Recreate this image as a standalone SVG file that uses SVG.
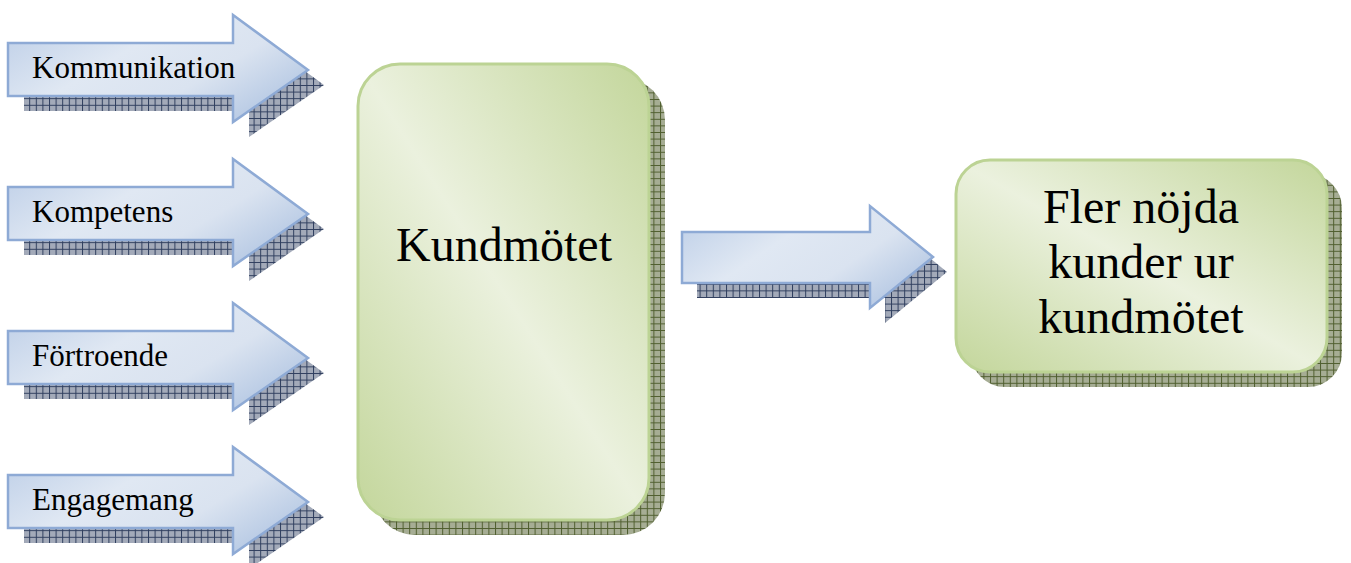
<svg xmlns="http://www.w3.org/2000/svg" width="1351" height="563" viewBox="0 0 1351 563">
<defs>
<style>
.arrow{fill:url(#arrowGrad);stroke:#8eaad5;stroke-width:2.5;stroke-linejoin:miter}
.arrowShadow{fill:url(#blueHatch)}
.box{fill:url(#boxGrad);stroke:#bcd394;stroke-width:3}
.boxShadow{fill:url(#greenHatch)}
.lbl{font-family:"Liberation Serif","Times New Roman",serif;font-size:31px;fill:#000}
.big{font-family:"Liberation Serif","Times New Roman",serif;font-size:48px;fill:#000;text-anchor:middle}
</style>
<linearGradient id="arrowGrad" x1="0" y1="0.2" x2="1" y2="0.8">
<stop offset="0" stop-color="#c2d2e9"/>
<stop offset="0.35" stop-color="#e0e8f3"/>
<stop offset="0.65" stop-color="#dae3f0"/>
<stop offset="1" stop-color="#aec3e1"/>
</linearGradient>
<linearGradient id="boxGrad" x1="1" y1="0" x2="0" y2="1">
<stop offset="0" stop-color="#c3d69b"/>
<stop offset="0.5" stop-color="#ebf1de"/>
<stop offset="1" stop-color="#c3d69b"/>
</linearGradient>
<pattern id="blueHatch" width="6.6" height="6.6" patternUnits="userSpaceOnUse">
<rect width="6.6" height="6.6" fill="#a3aab9"/>
<path d="M0 0.5H6.6M0.5 0V6.6" stroke="#2f3e5e" stroke-width="1"/>
</pattern>
<pattern id="greenHatch" width="6.6" height="6.6" patternUnits="userSpaceOnUse">
<rect width="6.6" height="6.6" fill="#a6ad94"/>
<path d="M0 0.5H6.6M0.5 0V6.6" stroke="#4f5e2e" stroke-width="1"/>
</pattern>
<path id="arrowShape" d="M8 -27H233V-55L308 0L233 52V26H8Z"/>
</defs>

<g id="connectors">
<g id="arrow-middle">
<path class="arrowShadow" d="M697 247H885V221L947 272L885 323V298H697Z"/>
<path class="arrow" d="M682 232H870V206L933 257L870 308V283H682Z"/>
</g>
</g>

<g id="node-kommunikation" transform="translate(0,70)">
<use href="#arrowShape" class="arrowShadow" transform="translate(16,15)"/>
<use href="#arrowShape" class="arrow"/>
<text class="lbl" x="32" y="8">Kommunikation</text>
</g>
<g id="node-kompetens" transform="translate(0,214)">
<use href="#arrowShape" class="arrowShadow" transform="translate(16,15)"/>
<use href="#arrowShape" class="arrow"/>
<text class="lbl" x="32" y="8">Kompetens</text>
</g>
<g id="node-fortroende" transform="translate(0,358)">
<use href="#arrowShape" class="arrowShadow" transform="translate(16,15)"/>
<use href="#arrowShape" class="arrow"/>
<text class="lbl" x="32" y="8">Förtroende</text>
</g>
<g id="node-engagemang" transform="translate(0,502)">
<use href="#arrowShape" class="arrowShadow" transform="translate(16,15)"/>
<use href="#arrowShape" class="arrow"/>
<text class="lbl" x="32" y="8">Engagemang</text>
</g>

<g id="node-kundmotet">
<rect class="boxShadow" x="373" y="78" width="292" height="457" rx="42"/>
<rect class="box" x="358" y="64" width="291" height="456" rx="42"/>
<text class="big" x="504" y="261">Kundmötet</text>
</g>

<g id="node-fler">
<rect class="boxShadow" x="971" y="174" width="371" height="213" rx="34"/>
<rect class="box" x="956" y="160" width="371" height="212" rx="34"/>
<text class="big" x="1141" y="223">Fler nöjda</text>
<text class="big" x="1141" y="278">kunder ur</text>
<text class="big" x="1141" y="333">kundmötet</text>
</g>
</svg>
